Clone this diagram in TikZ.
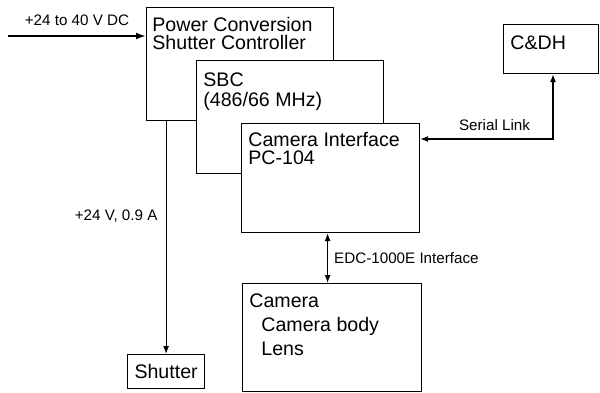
\documentclass[tikz,border=0pt]{standalone}
\usepackage{fontspec}
\setmainfont{Liberation Sans}
\usetikzlibrary{positioning, arrows.meta, calc}

\begin{document}
\begin{tikzpicture}[x=0.5pt, y=-0.5pt,
  blk/.style={draw, fill=white, line width=0.6pt, anchor=north west, inner sep=0pt},
  boxtext/.style={inner sep=0pt, align=left, font=\fontsize{9.8}{9}\selectfont},
  lbl/.style={inner sep=0pt, font=\fontsize{7.6}{9}\selectfont},
  arr/.style={-{Latex[length=4pt, width=3pt]}, line width=0.6pt},
  arrb/.style={{Latex[length=4pt, width=3pt]}-{Latex[length=4pt, width=3pt]}, line width=0.6pt}]
  \path[use as bounding box] (0,0) rectangle (600,392);

  % Stacked boards
  \node[blk, minimum width=93.5pt, minimum height=56.5pt] (pwr) at (146,7) {};
  \node[boxtext, below right=4.75pt and 3pt of pwr.north west] (pwrtxt) {Power Conversion\\Shutter Controller};
  \node[blk, minimum width=93.5pt, minimum height=56.5pt] (sbc) at (196,60) {};
  \node[boxtext, font=\fontsize{9.8}{10}\selectfont, below right=6pt and 3.5pt of sbc.north west] (sbctxt) {SBC\\(486/66 MHz)};
  \node[blk, minimum width=89pt, minimum height=54.5pt] (camif) at (241,123) {};
  \node[boxtext, below right=4.5pt and 3.5pt of camif.north west] (camiftxt) {Camera Interface\\PC-104};

  % Outside units
  \node[blk, minimum width=47.5pt, minimum height=24.5pt] (cdh) at (503,24) {};
  \node[boxtext, below right=5.5pt and 3.5pt of cdh.north west] (cdhtxt) {C\&DH};
  \node[blk, minimum width=89.5pt, minimum height=54pt] (cam) at (242,283) {};
  \node[boxtext, font=\fontsize{9.8}{12}\selectfont, below right=5pt and 3.5pt of cam.north west] (camtxt) {Camera\\\hspace*{6pt}Camera body\\\hspace*{6pt}Lens};
  \node[draw, line width=0.6pt, minimum width=38.5pt, minimum height=17pt, inner sep=0pt, font=\fontsize{9.8}{9}\selectfont, anchor=north west] (shut) at (127,354) {Shutter};

  % Connectors
  \coordinate (vin) at (8,36);
  \coordinate (sl) at (553,139);
  \draw[-{Latex[length=5pt, width=3.5pt]}, line width=1pt] (vin) -- (vin -| pwr.west)
    node[lbl, midway, above=4.5pt] (vintxt) {+24 to 40 V DC};
  \draw[arr] (shut.north |- pwr.south) -- (shut.north)
    node[lbl, pos=0.41, left=4pt] (shuttxt) {+24 V, 0.9 A};
  \draw[arrb] (camif.east |- sl) -- (sl) -- (sl |- cdh.south);
  \node[lbl, above=4pt of $(camif.east |- sl)!0.56!(sl)$] (sltxt) {Serial Link};
  \draw[arrb] ([xshift=-1.5pt]camif.south) -- ([xshift=-1.5pt]camif.south |- cam.north)
    node[lbl, midway, right=3pt] (edctxt) {EDC-1000E Interface};
\end{tikzpicture}
\end{document}
